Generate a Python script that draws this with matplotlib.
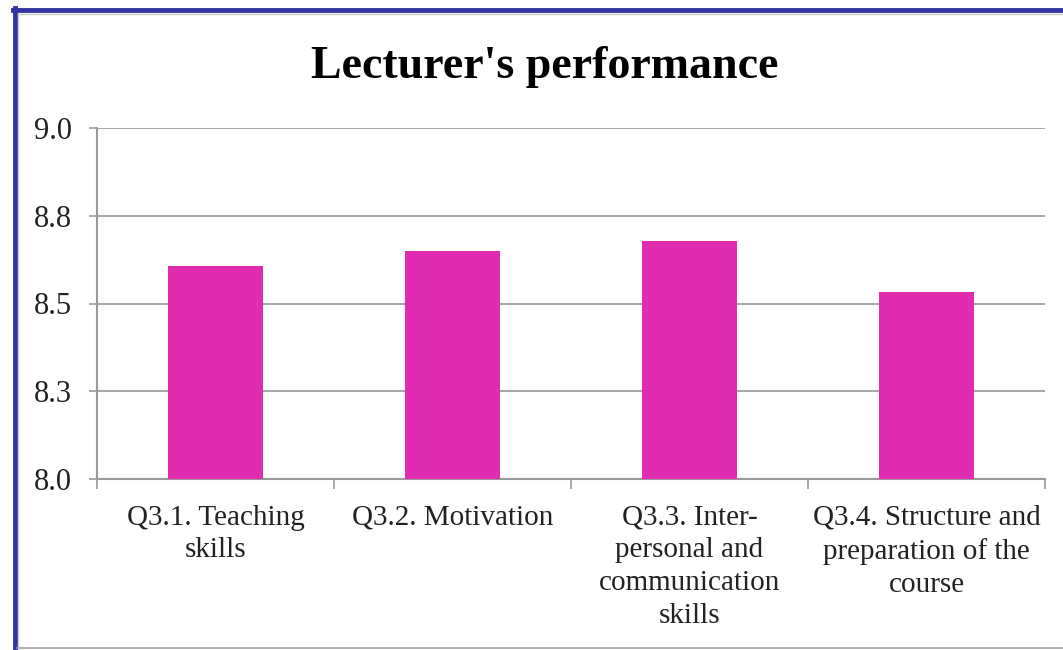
import matplotlib
matplotlib.use('Agg')
import matplotlib.pyplot as plt
from matplotlib.lines import Line2D

# ----------------------------------------------------------------
# data

categories=['Q3.1. Teaching\nskills',
            'Q3.2. Motivation',
            'Q3.3. Inter-\npersonal and\ncommunication\nskills',
            'Q3.4. Structure and\npreparation of the\ncourse']
scores=[8.607,8.65,8.678,8.533]
ytick_vals=[8.0,8.25,8.5,8.75,9.0]
ytick_labels=['8.0','8.3','8.5','8.8','9.0']
title="Lecturer's performance"

# ----------------------------------------------------------------
# figure

W,H=1063,650
plt.rcParams['font.family']=['Liberation Serif','DejaVu Serif']
fig=plt.figure(figsize=(W/100,H/100),dpi=100)
fig.set_facecolor('white')

ax=fig.add_axes([97/W,1-479/H,948/W,351/H])
x=list(range(len(categories)))
ax.bar(x,scores,width=0.4,color='#E02CB0',zorder=3)
ax.set_ylim(8.0,9.0)
ax.set_xlim(-0.5,len(categories)-0.5)

ax.set_yticks(ytick_vals)
ax.set_yticklabels(ytick_labels,fontsize=22,color='#222222')
ax.tick_params(axis='y',length=6,width=1.2,color='#9a9a9a',pad=12)

ax.set_xticks(x)
ax.set_xticklabels(categories,fontsize=21,color='#222222',linespacing=1.34)
ax.tick_params(axis='x',which='major',length=0,pad=18.5)
ax.set_xticks([i-0.5 for i in range(len(categories)+1)],minor=True)
ax.tick_params(axis='x',which='minor',length=7,width=1.2,color='#9a9a9a')

ax.yaxis.grid(True,color='#a8a8a8',lw=1.5,zorder=0)
ax.set_axisbelow(True)
for s in ['top','right']:
    ax.spines[s].set_visible(False)
for s in ['left','bottom']:
    ax.spines[s].set_color('#9a9a9a')
    ax.spines[s].set_linewidth(1.5)

fig.text(545/W,1-67/H,title,fontsize=33,fontweight='bold',
         ha='center',va='center',color='black')

# ----------------------------------------------------------------
# frame

def fx(px): return px/W
def fy(py): return 1-py/H

fig.add_artist(Line2D([fx(14.5),fx(14.5)],[fy(8),fy(H)],color='#3434A0',lw=3.5))
fig.add_artist(Line2D([fx(12.5),fx(W)],[fy(10),fy(10)],color='#3434A0',lw=3.5))
fig.add_artist(Line2D([fx(18),fx(18)],[fy(13.5),fy(648)],color='#c8c8c8',lw=1))
fig.add_artist(Line2D([fx(18),fx(W)],[fy(13.5),fy(13.5)],color='#c8c8c8',lw=1))
fig.add_artist(Line2D([fx(17),fx(W)],[fy(648),fy(648)],color='#a0a0a0',lw=1.2))

plt.savefig('out.png',dpi=100)
